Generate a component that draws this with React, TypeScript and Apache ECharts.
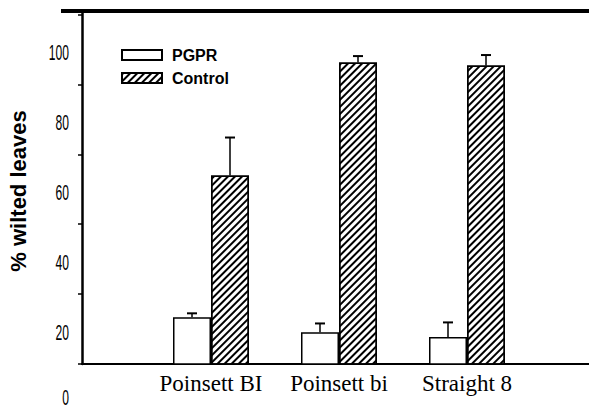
import React, { useEffect, useRef } from "react";
import * as echarts from "echarts";

const categories = ["Poinsett BI", "Poinsett bi", "Straight 8"];
const pgprValues = [24.4, 20.1, 18.7];
const pgprErrors = [1.1, 2.5, 4.2];
const controlValues = [64.9, 97.3, 96.4];
const controlErrors = [10.9, 1.8, 3.0];
const yTickLabels = [0, 20, 40, 60, 80, 100];
const seriesNames = ["PGPR", "Control"];

const BAR_WIDTH = 38;
const Y_MIN = 11;
const Y_MAX = 112;

function errorRenderer(offset: number) {
  return (params: any, api: any) => {
    const i = api.value(0);
    const v = api.value(1);
    const e = api.value(2);
    const base = api.coord([i, v]);
    const cap = api.coord([i, v + e]);
    const cx = base[0] + offset;
    return {
      type: "group",
      children: [
        {
          type: "line",
          shape: { x1: cx, y1: base[1], x2: cx, y2: cap[1] },
          style: { stroke: "#000", lineWidth: 1.5 },
        },
        {
          type: "line",
          shape: { x1: cx - 5, y1: cap[1], x2: cx + 5, y2: cap[1] },
          style: { stroke: "#000", lineWidth: 2 },
        },
      ],
    };
  };
}

export default function App() {
  const ref = useRef<HTMLDivElement>(null);
  useEffect(() => {
    if (!ref.current) return;
    const chart = echarts.init(ref.current, null, { renderer: "svg" });
    const hatch = {
      symbol: "rect",
      symbolSize: 1,
      dashArrayX: [1, 0],
      dashArrayY: [1.6, 2.2],
      rotation: -Math.PI / 4,
      color: "#000",
    };
    const option: any = {
      animation: false,
      backgroundColor: "#fff",
      legend: {
        data: seriesNames,
        orient: "vertical",
        left: 121,
        top: 47,
        padding: 0,
        itemWidth: 40,
        itemHeight: 10,
        itemGap: 7,
        icon: "rect",
        textStyle: {
          fontFamily: '"Liberation Sans", Arial, sans-serif',
          fontWeight: "bold",
          fontSize: 16,
          color: "#000",
          padding: [0, 0, 0, 5],
        },
      },
      grid: [
        { left: 82, right: 0, top: 11, bottom: 47 },
        { left: 147, width: 384, top: 11, bottom: 47 },
      ],
      xAxis: [
        {
          gridIndex: 0,
          type: "value",
          min: 0,
          max: 1,
          axisLine: { show: true, onZero: false, lineStyle: { color: "#000", width: 2 } },
          axisTick: { show: false },
          axisLabel: { show: false },
          splitLine: { show: false },
        },
        {
          gridIndex: 1,
          type: "category",
          data: categories,
          axisLine: { show: false },
          axisTick: { show: false },
          axisLabel: {
            interval: 0,
            margin: 8,
            fontFamily: '"Liberation Serif", "Times New Roman", serif',
            fontSize: 23,
            color: "#000",
          },
        },
      ],
      yAxis: [
        {
          gridIndex: 0,
          type: "value",
          min: Y_MIN,
          max: Y_MAX,
          interval: 20,
          axisLine: { show: true, onZero: false, lineStyle: { color: "#000", width: 2.5 } },
          axisTick: { show: true, inside: false, length: 4, lineStyle: { color: "#000", width: 1.5 } },
          axisLabel: { show: false },
          splitLine: { show: false },
        },
        {
          gridIndex: 1,
          type: "value",
          min: Y_MIN,
          max: Y_MAX,
          show: false,
          splitLine: { show: false },
        },
      ],
      series: [
        {
          name: "PGPR",
          type: "bar",
          xAxisIndex: 1,
          yAxisIndex: 1,
          data: pgprValues,
          barWidth: BAR_WIDTH,
          barGap: "0%",
          itemStyle: { color: "#fff", borderColor: "#000", borderWidth: 1.5 },
        },
        {
          name: "Control",
          type: "bar",
          xAxisIndex: 1,
          yAxisIndex: 1,
          data: controlValues,
          barWidth: BAR_WIDTH,
          barGap: "0%",
          itemStyle: { color: "#fff", borderColor: "#000", borderWidth: 1.5, decal: hatch },
        },
        {
          name: "PGPR error",
          type: "custom",
          xAxisIndex: 1,
          yAxisIndex: 1,
          z: 5,
          data: pgprValues.map((v, i) => [i, v, pgprErrors[i]]),
          encode: { x: 0, y: 1 },
          renderItem: errorRenderer(-BAR_WIDTH / 2),
        },
        {
          name: "Control error",
          type: "custom",
          xAxisIndex: 1,
          yAxisIndex: 1,
          z: 5,
          data: controlValues.map((v, i) => [i, v, controlErrors[i]]),
          encode: { x: 0, y: 1 },
          renderItem: errorRenderer(BAR_WIDTH / 2),
        },
      ],
    };
    chart.setOption(option);

    const labelGraphics = yTickLabels.map((v) => {
      const yRaw = chart.convertToPixel({ yAxisIndex: 0 } as any, v) as any as number;
      // keep the lowest label inside the picture
      const y = Math.min(yRaw, 398);
      return {
        type: "text",
        x: 69,
        y,
        scaleX: 0.55,
        style: {
          text: String(v),
          font: 'normal 22px "Liberation Sans", Arial, sans-serif',
          fill: "#000",
          align: "right",
          verticalAlign: "middle",
        },
      };
    });
    chart.setOption({
      graphic: [
        {
          type: "rect",
          shape: { x: 61, y: 9, width: 528, height: 4 },
          style: { fill: "#000" },
        },
        {
          type: "text",
          x: 18,
          y: 191,
          rotation: Math.PI / 2,
          style: {
            text: "% wilted leaves",
            font: 'bold 22px "Liberation Sans", Arial, sans-serif',
            fill: "#000",
            align: "center",
            verticalAlign: "middle",
          },
        },
        ...labelGraphics,
      ],
    });
    return () => chart.dispose();
  }, []);
  return (
    <div
      ref={ref}
      style={{ position: "fixed", left: 0, top: 0, width: 589, height: 411 }}
    />
  );
}
